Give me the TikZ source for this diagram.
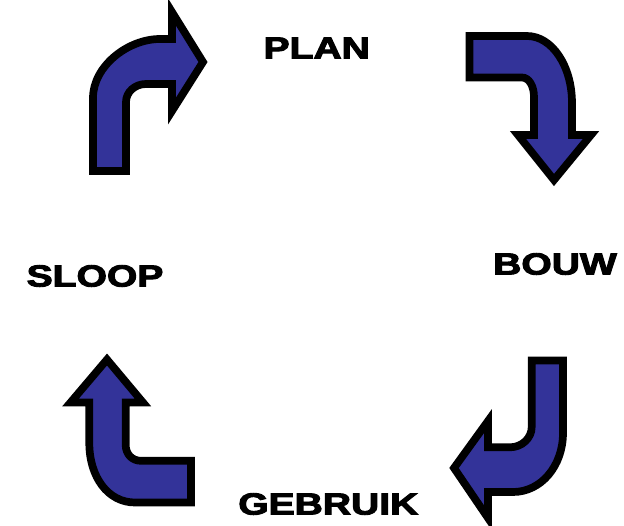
\documentclass[tikz,border=0pt]{standalone}
\usepackage{fontspec}
\usepackage{graphicx}
\setmainfont{Liberation Sans}[BoldFeatures={FakeBold=3}]
\definecolor{arrowblue}{RGB}{51,51,153}
\begin{document}
\begin{tikzpicture}[x=1pt,y=-1pt,
  bentarrow/.style={fill=arrowblue,draw=black,line width=7.7pt,line join=miter,miter limit=10},
  cyclelabel/.style={inner sep=0pt,font=\fontsize{30.5}{30.5}\selectfont\bfseries}]
\useasboundingbox (0,0) rectangle (624,525);
% top-left arrow
\draw[bentarrow] (93,171) -- (93,98) .. controls (93,66) and (128,39) .. (160,39) -- (172,39) -- (172,12) -- (203,62) -- (172,111) -- (172,84) -- (146,84) .. controls (135,84) and (126,92) .. (126,102) -- (126,171) -- cycle;
% top-right arrow
\draw[bentarrow] (469.5,36) -- (527,36) .. controls (552,36) and (572,66) .. (572,103) -- (572,135) -- (591,135) -- (554,180) -- (518,135) -- (534,135) -- (534,97) .. controls (534,86) and (529,77.5) .. (522,77.5) -- (469.5,77.5) -- cycle;
% bottom-right arrow
\draw[bentarrow] (531.7,360.5) -- (563,360.5) -- (563,433) .. controls (563,466) and (541,492) .. (513,492) -- (488,492) -- (488,518) -- (454,468) -- (488,421) -- (488,447.3) -- (510,447.3) .. controls (522,447.3) and (531.7,438) .. (531.7,427) -- cycle;
% bottom-left arrow
\draw[bentarrow] (191,460.8) -- (191,502.5) -- (135,502.5) .. controls (108,502.5) and (89.3,477) .. (89.3,443) -- (89.3,402.5) -- (70.5,402.5) -- (107,359.5) -- (143,402.5) -- (125.7,402.5) -- (125.7,445) .. controls (125.7,454) and (132,460.8) .. (141,460.8) -- cycle;
% labels
\node[cyclelabel] (plan) at (316.7,48) {\scalebox{1.28}[1]{PLAN}};
\node[cyclelabel] (bouw) at (555,264) {\scalebox{1.28}[1]{BOUW}};
\node[cyclelabel] (sloop) at (95,276) {\scalebox{1.28}[1]{SLOOP}};
\node[cyclelabel] (gebruik) at (328.3,504) {\scalebox{1.28}[1]{GEBRUIK}};
\end{tikzpicture}
\end{document}
